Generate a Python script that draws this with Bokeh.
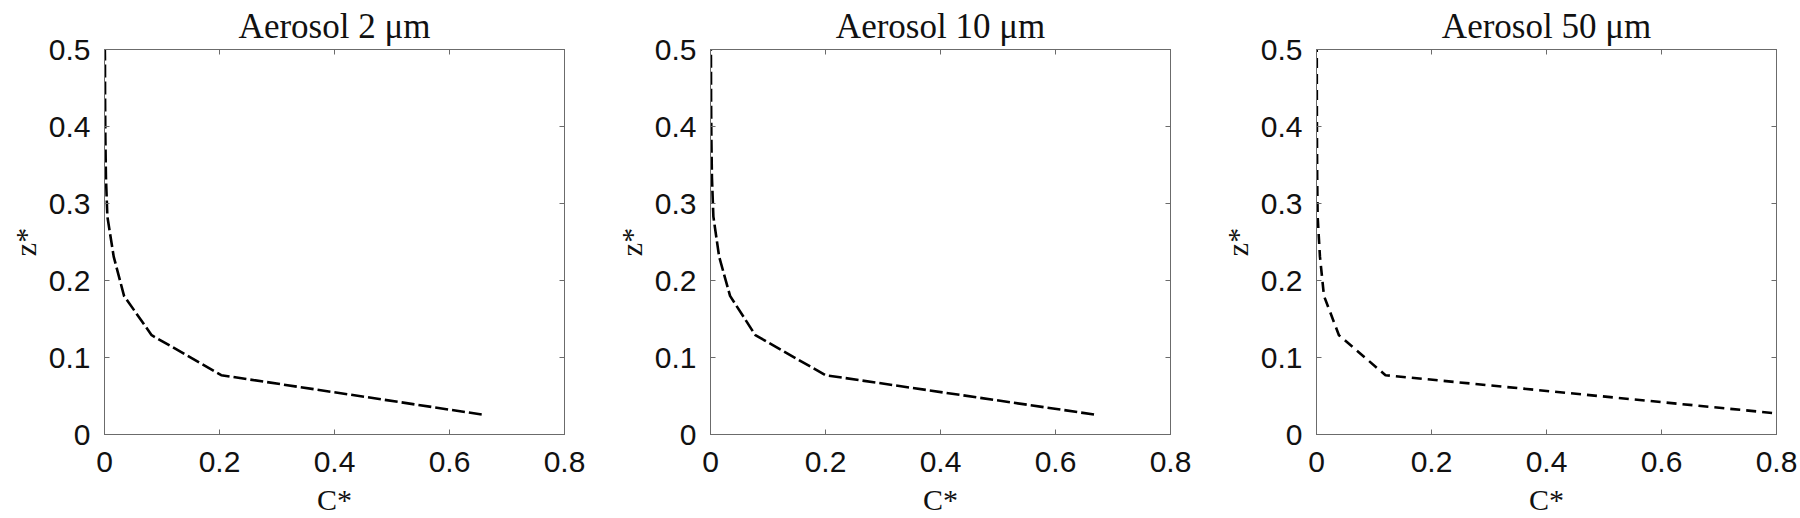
from bokeh.plotting import figure
from bokeh.models import Range1d, FixedTicker, LinearAxis
from bokeh.layouts import row
from bokeh.embed import file_html
from bokeh.resources import INLINE

# ---------------- data ----------------
panel_titles = ["Aerosol 2 μm", "Aerosol 10 μm", "Aerosol 50 μm"]
z_star = [0.026, 0.077, 0.129, 0.180, 0.231, 0.283, 0.334, 0.386, 0.437, 0.489, 0.500]
c_2um = [0.656, 0.203, 0.082, 0.034, 0.016, 0.005, 0.0025, 0.0015, 0.0010, 0.0008, 0.0006]
c_10um = [0.667, 0.200, 0.078, 0.034, 0.015, 0.005, 0.0025, 0.0015, 0.0010, 0.0008, 0.0006]
c_50um = [0.820, 0.120, 0.039, 0.013, 0.006, 0.002, 0.0012, 0.0008, 0.0006, 0.0005, 0.0004]
x_ticks = [0, 0.2, 0.4, 0.6, 0.8]
x_tick_labels = ["0", "0.2", "0.4", "0.6", "0.8"]
y_ticks = [0, 0.1, 0.2, 0.3, 0.4, 0.5]
y_tick_labels = ["0", "0.1", "0.2", "0.3", "0.4", "0.5"]
x_label = "C*"
y_label = "z*"

series = [c_2um, c_10um, c_50um]
dashes = ["13 4", "13 4", "10 6"]

AX_COLOR = "#6b6b6b"
TXT = "#111111"
TICK_FONT = "Liberation Sans"
SERIF = "Liberation Serif"


def style_axis(ax, ticks, labels=None):
    ax.ticker = FixedTicker(ticks=ticks)
    ax.axis_line_color = AX_COLOR
    ax.axis_line_width = 1
    ax.major_tick_line_color = AX_COLOR
    ax.major_tick_in = 5
    ax.major_tick_out = 0
    ax.minor_tick_in = 0
    ax.minor_tick_out = 0
    ax.minor_tick_line_color = None
    if labels is None:
        ax.major_label_text_color = None
        ax.major_label_text_font_size = "2px"
        ax.major_label_standoff = 0
    else:
        ax.major_label_overrides = {t: l for t, l in zip(ticks, labels)}
        ax.major_label_text_font = TICK_FONT
        ax.major_label_text_font_size = "30px"
        ax.major_label_text_color = TXT


def make_panel(idx, c_vals, width, right_border):
    p = figure(width=width, height=518, output_backend="svg", toolbar_location=None,
               x_range=Range1d(0, 0.8), y_range=Range1d(0, 0.5),
               min_border_left=104, min_border_right=right_border,
               min_border_top=49, min_border_bottom=82)
    p.background_fill_color = "white"
    p.border_fill_color = "white"
    p.outline_line_color = AX_COLOR
    p.xgrid.visible = False
    p.ygrid.visible = False

    p.title.text = panel_titles[idx]
    p.title.text_font = SERIF
    p.title.text_font_style = "normal"
    p.title.text_font_size = "35px"
    p.title.text_color = TXT
    p.title.align = "center"
    p.title.standoff = 8

    style_axis(p.xaxis[0], x_ticks, x_tick_labels)
    style_axis(p.yaxis[0], y_ticks, y_tick_labels)
    p.xaxis[0].major_label_standoff = 17
    p.yaxis[0].major_label_standoff = 14

    p.xaxis[0].axis_label = x_label
    p.yaxis[0].axis_label = y_label
    for ax in (p.xaxis[0], p.yaxis[0]):
        ax.axis_label_text_font = SERIF
        ax.axis_label_text_font_style = "normal"
        ax.axis_label_text_font_size = "30px"
        ax.axis_label_text_color = TXT
    p.xaxis[0].axis_label_standoff = 8
    p.yaxis[0].axis_label_standoff = 4

    top_ax = LinearAxis()
    style_axis(top_ax, x_ticks)
    p.add_layout(top_ax, "above")
    right_ax = LinearAxis()
    style_axis(right_ax, y_ticks)
    p.add_layout(right_ax, "right")

    p.line(x=c_vals, y=z_star, line_color="black", line_width=2.6,
           line_dash=dashes[idx])
    return p


p1 = make_panel(0, series[0], 606, 42)
p2 = make_panel(1, series[1], 606, 42)
p3 = make_panel(2, series[2], 588, 24)

layout = row(p1, p2, p3)
open("out.html", "w").write(file_html(layout, INLINE))
